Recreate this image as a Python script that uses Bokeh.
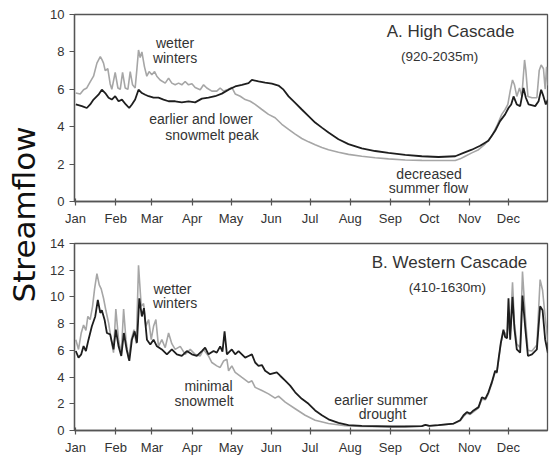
import math
from bokeh.plotting import figure
from bokeh.models import FixedTicker, Label, Range1d
from bokeh.layouts import row, column
from bokeh.embed import file_html
from bokeh.resources import INLINE

# ---------------- data ----------------
month_days = [0, 31, 59, 90, 120, 151, 181, 212, 243, 273, 304, 334]
month_labels = ["Jan", "Feb", "Mar", "Apr", "May", "Jun", "Jul", "Aug", "Sep", "Oct", "Nov", "Dec"]
ticks_a = [0, 2, 4, 6, 8, 10]
ticks_b = [0, 2, 4, 6, 8, 10, 12, 14]

# Panel A: High Cascade -- light gray series
a_gray_day = [0.2, 3.6, 6.2, 8.7, 11.3, 13.9, 16.5, 19.1, 20.3, 21.6, 22.9, 24.9, 26.7, 28, 30.6, 32.7,
              34.5, 36.3, 38.3, 40.4, 42.2, 44, 46, 47.3, 48.6, 49.9, 51.2, 53.2, 55, 56.8, 58.9, 61,
              62.7, 65.3, 69.2, 71.8, 74.3, 76.9, 79.5, 82, 84.6, 87.2, 89.8, 92.3, 96.2, 98.8, 101.3,
              105.2, 109, 111.6, 114.2, 116.8, 118.1, 120.6, 123.2, 127.1, 130.9, 134.8, 138.6, 143.8,
              148.9, 154, 159.2, 164.4, 169.5, 174.6, 179.8, 184.9, 190.1, 195.2, 202.9, 210.6, 220.9,
              231.2, 241.5, 254.4, 267.2, 280.1, 293, 296.8, 300.7, 305.8, 311, 316, 321.2, 325.1,
              328.9, 331.5, 333.6, 335.4, 337.2, 338.7, 340.5, 342.6, 344.4, 346.5, 347.5, 349.1,
              352.2, 356, 357.8, 359.3, 361.1, 362.4, 363.5, 364.5]
a_gray_val = [5.8, 5.75, 5.98, 6.07, 6.4, 6.7, 7.4, 7.75, 7.6, 7.4, 7.0, 7.1, 6.3, 6.0, 6.9, 6.07,
              6.0, 6.9, 6.07, 6.0, 6.95, 6.24, 6.07, 7.04, 8.1, 7.7, 8.0, 7.2, 6.7, 6.95, 6.78, 6.95,
              6.7, 6.5, 6.33, 6.6, 6.33, 6.24, 6.33, 6.24, 6.42, 6.24, 6.3, 6.1, 5.98, 6.24, 6.07,
              5.9, 5.9, 6.07, 5.9, 5.98, 6.0, 6.1, 5.75, 5.63, 5.45, 5.36, 5.19, 4.92,
              4.66, 4.48, 4.13, 3.86, 3.6, 3.37, 3.19, 3.03, 2.89, 2.77, 2.63, 2.52, 2.42,
              2.34, 2.28, 2.22, 2.2, 2.19, 2.19, 2.28, 2.42, 2.6, 2.77, 3.07, 3.5, 4.04,
              4.66, 4.92, 5.19, 5.9, 6.5, 6.24, 5.62, 6.07, 5.62, 7.57, 7.0, 5.62,
              5.55, 5.55, 7.0, 7.3, 7.1, 6.0, 7.2, 6.2]

# Panel A: High Cascade -- black series
a_black_day = [0.2, 4.9, 8.7, 11.3, 13.9, 17.7, 20.3, 22.9, 25.5, 28, 30.6, 33.2, 35.8, 38.8, 41.4,
               43.5, 46, 48.6, 51.2, 53.8, 56.4, 60.2, 64, 67.9, 71.8, 76.9, 82, 87.2, 92.3, 97.5,
               102.6, 107.7, 112.9, 118.1, 123.2, 128.4, 133.5, 136.1, 141.2, 146.3, 151.5, 156.6,
               160.5, 164.4, 169.5, 174.6, 179.8, 184.9, 190.1, 195.2, 202.9, 210.6, 220.9, 231.2,
               241.5, 254.4, 267.2, 280.1, 293, 299.4, 305.8, 312.2, 318.6, 323.8, 327.6, 331.5,
               334.1, 336.2, 338, 340.5, 343.1, 345.7, 347.5, 349.6, 354.7, 357.3, 359.3, 361.1,
               362.9, 364.5]
a_black_val = [5.19, 5.1, 5.0, 5.19, 5.45, 5.71, 5.98, 5.8, 5.55, 5.45, 5.63, 5.36, 5.45, 5.19, 5.0,
               5.19, 5.45, 5.98, 5.8, 5.71, 5.63, 5.55, 5.55, 5.45, 5.36, 5.36, 5.3, 5.36, 5.3, 5.5,
               5.55, 5.63, 5.77, 5.98, 6.15, 6.24, 6.33, 6.5, 6.42, 6.36, 6.3, 6.2,
               5.98, 5.62, 5.27, 4.92, 4.57, 4.22, 3.95, 3.69, 3.33, 3.07, 2.84, 2.7,
               2.6, 2.49, 2.42, 2.38, 2.42, 2.6, 2.77, 2.98, 3.25, 3.78, 4.3, 4.66,
               5.0, 5.19, 5.62, 5.19, 5.1, 6.07, 5.55, 5.19, 5.1, 5.36, 5.98, 5.62,
               5.19, 5.45]

# Panel B: Western Cascade -- light gray series
b_gray_day = [0.2, 2.3, 4.4, 6.2, 8, 9.5, 11.3, 13.1, 14.7, 16.5, 18.3, 19.8, 21.6, 23.4, 25.5, 27.5,
              29.3, 31.1, 33.2, 35.3, 37.1, 38.9, 41, 43, 45.1, 46.9, 48.6, 50.7, 52.5, 54.3, 56.4,
              58.4, 60.2, 62, 64, 66.6, 69.2, 71.8, 74.3, 76.9, 80.8, 84.6, 88.5, 92.3, 96.2, 98.8,
              102.6, 105.2, 109, 111.6, 114.2, 116.8, 118.1, 120.6, 123.2, 128.4, 133.5, 136.1,
              138.6, 143.8, 148.9, 154, 156.6, 161.8, 169.5, 177.2, 184.9, 195.2, 208, 220.9,
              244, 254.4, 267.2, 270, 273, 280.1, 291.7, 296.8, 299.4, 302, 304.5, 307.1, 311,
              313.6, 316.2, 318.6, 321.2, 323.8, 325.1, 326.4, 328.2, 330.2, 331.5, 333, 334.1,
              335.4, 337.2, 338.7, 340.5, 343.1, 344.9, 347.1, 349.1, 352.2, 356, 358.5, 360.4,
              362.4, 364.5]
b_gray_val = [6.8, 6.07, 7.3, 7.9, 7.5, 8.54, 8.3, 9.28, 10.6, 11.75, 10.9, 10.6, 9.9, 9.0, 8.05, 6.8,
              5.83, 9.1, 6.8, 5.7, 9.1, 6.8, 5.33, 6.8, 7.55, 6.5, 12.37, 9.3, 9.5, 7.8, 8.3,
              6.8, 7.8, 8.3, 6.3, 6.8, 6.2, 7.3, 6.5, 6.07, 6.3, 5.7, 6.07, 5.7, 5.58, 6.07,
              5.58, 5.09, 4.84, 4.72, 5.2, 5.33, 4.47, 4.84, 4.35, 3.97, 3.6, 3.72,
              3.23, 2.99, 2.74, 2.42, 2.57, 2.12, 1.63, 1.14, 0.77, 0.52, 0.35, 0.3,
              0.28, 0.3, 0.33, 0.42, 0.35, 0.4, 0.5, 0.72, 1.05, 1.3, 1.2, 1.4, 1.7,
              2.35, 2.3, 2.75, 3.5, 4.4, 4.3, 5.2, 6.5, 7.4, 7.3, 7.0, 8.3,
              7.2, 11.1, 8.0, 6.5, 6.2, 11.9, 8.5, 6.0, 5.95, 6.4, 11.3, 10.5,
              8.5, 6.6]

# Panel B: Western Cascade -- black series
b_black_day = [0.2, 2.3, 4.4, 6.2, 8, 10, 12.6, 15.2, 17.2, 19.1, 20.3, 22.4, 24.2, 26.7, 29.3, 31.1,
               33.2, 35.3, 37.3, 39.4, 41.5, 43.5, 45.6, 47.4, 49.2, 51.2, 52.8, 55.1, 57.7, 60.2,
               62.8, 66.6, 70.5, 74.3, 78.2, 82, 85.9, 89.8, 93.6, 97.5, 100, 102.6, 106.5, 109,
               111.6, 113.4, 115, 116.8, 118.1, 120.6, 123.2, 125.8, 130.9, 133.5, 136.1, 138.6,
               141.2, 143.8, 146.3, 150.2, 155.3, 157.9, 161.8, 165.6, 169.5, 174.6, 179.8, 184.9,
               190.1, 195.2, 202.9, 210.6, 220.9, 244, 254.4, 267.2, 270, 273, 280.1, 291.7, 296.8,
               299.4, 302, 304.5, 307.1, 311, 313.6, 316.2, 318.6, 321.2, 323.8, 325.1, 326.4, 328.2,
               330.2, 331.5, 333, 334.1, 335.4, 337.2, 338.7, 340.5, 343.1, 344.9, 347.1, 349.1,
               352.2, 356, 358.5, 360.4, 362.4, 364.5]
b_black_val = [5.95, 5.46, 5.7, 6.32, 5.95, 6.8, 7.8, 8.54, 9.78, 8.8, 9.0, 8.3, 7.3, 7.2, 6.07, 7.55,
               6.3, 5.58, 7.3, 6.07, 5.21, 6.8, 7.42, 6.57, 9.9, 8.54, 9.16, 6.8, 6.44, 6.8,
               6.3, 6.07, 5.7, 6.07, 5.7, 5.58, 5.95, 5.7, 5.58, 5.95, 6.2, 5.7, 5.95, 5.83,
               6.3, 5.9, 7.42, 5.7, 5.83, 6.07, 5.7, 5.95, 5.46, 5.58, 5.7, 5.09,
               4.84, 4.9, 4.47, 4.22, 4.35, 4.1, 3.73, 3.36, 2.86, 2.37, 2.0, 1.5,
               1.14, 0.84, 0.57, 0.4, 0.35, 0.3, 0.3, 0.33, 0.42, 0.35, 0.4, 0.52, 0.77,
               1.14, 1.38, 1.26, 1.5, 1.75, 2.49, 2.37, 2.86, 3.6, 4.47, 4.35, 5.33, 6.57,
               7.55, 7.0, 6.9, 9.9, 6.8, 10.0, 7.6, 6.07, 5.83, 10.1, 7.6, 5.58,
               5.7, 6.07, 9.3, 9.0, 6.8, 5.8]

# ---------------- styling helpers ----------------
FONT = "Liberation Sans"
TXT = "#333333"
GRAY = "#a6a6a6"
BLACK = "#1e1e1e"


def make_panel(height, border_top, y_max, y_ticks):
    p = figure(width=507, height=height, x_range=Range1d(-0.8, 364.2), y_range=Range1d(0, y_max),
               toolbar_location=None, output_backend="svg",
               min_border_left=30, min_border_right=4, min_border_top=border_top, min_border_bottom=25)
    p.title = None
    p.grid.visible = False
    p.outline_line_color = "#555555"
    p.outline_line_width = 1.3
    p.background_fill_color = "white"
    p.border_fill_color = "white"
    p.xaxis.ticker = FixedTicker(ticks=month_days)
    p.xaxis.major_label_overrides = {d: m for d, m in zip(month_days, month_labels)}
    p.yaxis.ticker = FixedTicker(ticks=y_ticks)
    for ax in (p.xaxis, p.yaxis):
        ax.axis_line_color = "#555555"
        ax.axis_line_width = 1.3
        ax.major_tick_line_color = "#555555"
        ax.major_tick_line_width = 1.2
        ax.minor_tick_line_color = None
        ax.major_label_text_font = FONT
        ax.major_label_text_font_size = "13px"
        ax.major_label_text_color = TXT
        ax.major_label_standoff = 5
    p.xaxis.major_tick_in = 3
    p.xaxis.major_tick_out = 4
    p.yaxis.major_tick_in = 0
    p.yaxis.major_tick_out = 5
    return p


def add_text(p, x, y, text, size="14px"):
    p.add_layout(Label(x=x, y=y, text=text, text_font=FONT, text_font_size=size,
                       text_color=TXT, text_align="center", text_baseline="middle"))


# ---------------- panel A ----------------
pa = make_panel(228, 14, 10, ticks_a)
pa.line(a_gray_day, a_gray_val, line_color=GRAY, line_width=1.6)
pa.line(a_black_day, a_black_val, line_color=BLACK, line_width=1.8)
add_text(pa, 76.8, 8.47, "wetter")
add_text(pa, 76.8, 7.67, "winters")
add_text(pa, 96.8, 4.39, "earlier and lower")
add_text(pa, 105.3, 3.54, "snowmelt peak")
add_text(pa, 272.8, 1.48, "decreased")
add_text(pa, 272.4, 0.74, "summer flow")
add_text(pa, 289.4, 9.1, "A. High Cascade", "17px")
add_text(pa, 280.9, 7.78, "(920-2035m)", "13.5px")

# ---------------- panel B ----------------
pb = make_panel(229, 15, 14, ticks_b)
pb.line(b_gray_day, b_gray_val, line_color=GRAY, line_width=1.6)
pb.line(b_black_day, b_black_val, line_color=BLACK, line_width=1.8)
add_text(pb, 288.6, 12.59, "B. Western Cascade", "17px")
add_text(pb, 287.0, 10.67, "(410-1630m)", "13.5px")
add_text(pb, 74.8, 10.59, "wetter")
add_text(pb, 76.8, 9.56, "winters")
add_text(pb, 102.6, 3.33, "minimal")
add_text(pb, 99.2, 2.22, "snowmelt")
add_text(pb, 235.7, 2.3, "earlier summer")
add_text(pb, 236.9, 1.26, "drought")

# ---------------- left label ----------------
pl = figure(width=44, height=457, x_range=Range1d(0, 1), y_range=Range1d(0, 1),
            toolbar_location=None, output_backend="svg", min_border=0,
            x_axis_location=None, y_axis_location=None)
pl.title = None
pl.grid.visible = False
pl.outline_line_color = None
pl.border_fill_color = "white"
pl.background_fill_color = "white"
pl.add_layout(Label(x=23, y=243, x_units="screen", y_units="screen", text="Streamflow",
                    angle=math.pi / 2, text_font="DejaVu Sans", text_font_size="31px",
                    text_color="#111111", text_align="center", text_baseline="middle"))

layout = row(pl, column(pa, pb))
open("out.html", "w").write(file_html(layout, INLINE))
